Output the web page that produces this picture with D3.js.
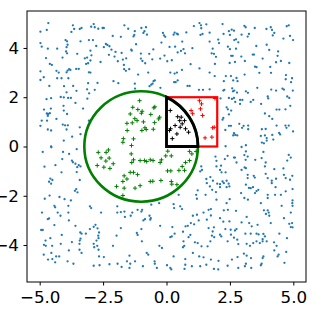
<!DOCTYPE html>
<html>
<head>
<meta charset="utf-8">
<script src="https://cdn.jsdelivr.net/npm/d3@7"></script>
<style>
    html, body { margin: 0; padding: 0; background: #fff; }
    svg { display: block; font-family: "DejaVu Sans", sans-serif; }
</style>
</head>
<body>
<div id="chart"></div>
<script>
const xTicks = [-5, -2.5, 0, 2.5, 5];
const yTicks = [-4, -2, 0, 2, 4];
const circleCenter = [-1, 0];
const circleRadius = 2.24;
const squareCorner = [0, 0];
const squareSide = 2;

// sample points ([x, y])
const points = [
    [-4.66,5.01],[-4.97,4.66],[-4.72,4.73],[-3.69,4.92],[-3.64,4.77],[-3.42,4.77],[-3.35,4.81],[-2.97,4.86],[-2.87,4.97],[-2.83,4.84],
    [-2.69,4.78],[-2.52,4.81],[-2.47,4.81],[-2.12,4.49],[-3.75,4.65],[-4.97,4.20],[-4.92,4.05],[-3.98,4.32],[-3.92,4.27],[-3.90,4.13],
    [-3.94,4.03],[-4.68,3.97],[-4.31,3.97],[-3.39,4.27],[-3.06,4.32],[-2.90,4.32],[-2.77,4.08],[-2.39,4.16],[-2.33,4.12],[-2.25,4.07],
    [-2.47,4.03],[-2.17,3.93],[-2.01,3.84],[-3.96,3.86],[-3.92,3.78],[-3.52,3.76],[-4.10,3.61],[-3.13,3.61],[-3.00,3.89],[-2.96,3.70],
    [-3.22,3.58],[-2.27,3.72],[-2.05,3.65],[-1.92,3.46],[-2.60,3.43],[-4.75,3.59],[-4.60,3.35],[-4.52,3.31],[-3.00,3.49],[-3.09,3.38],
    [-3.17,3.35],[-4.97,3.05],[-4.34,3.07],[-4.25,3.00],[-3.90,3.08],[-3.84,3.14],[-3.79,3.11],[-3.94,3.01],[-3.56,3.15],[-3.46,3.15],
    [-3.06,3.01],[-3.00,3.00],[-4.84,2.81],[-4.31,2.77],[-4.14,2.77],[-3.87,2.77],[-4.97,2.70],[-4.62,2.46],[-4.04,2.45],[-3.68,2.46],
    [-3.09,2.57],[-2.72,2.58],[-2.09,2.65],[-1.90,2.57],[-3.94,2.20],[-3.55,2.26],[-3.13,2.32],[-2.83,2.30],[-3.05,2.16],[-4.17,2.01],
    [-4.05,1.99],[-3.88,1.97],[-3.77,1.97],[-4.55,1.96],[-4.73,1.92],[-3.59,1.77],[-3.12,1.94],[-4.83,1.50],[-4.56,1.54],[-4.72,1.34],
    [-4.67,1.32],[-4.60,1.35],[-4.68,1.24],[-4.06,1.65],[-4.05,1.46],[-3.29,1.54],[-4.92,1.05],[-4.34,1.12],[-3.92,1.32],[-4.09,0.89],
    [-4.00,0.86],[-3.89,0.86],[-4.97,0.84],[-4.68,0.69],[-4.55,0.65],[-4.71,1.05],[-3.42,0.78],[-3.94,0.69],[-4.05,0.24],[-3.72,0.40],
    [-3.39,0.50],[-4.55,0.00],[-3.06,1.05],
    [-1.66,4.92],[-1.51,4.78],[-1.25,4.68],[-1.27,4.53],[-1.30,4.47],[-0.99,4.81],[-0.81,4.84],[-0.87,4.68],[-0.77,4.54],[-0.91,4.61],
    [-0.14,4.61],[-0.10,4.51],[-0.05,4.45],[0.32,4.62],[0.28,4.54],[0.41,4.58],[0.45,4.55],[0.78,4.63],[1.08,4.89],[1.30,5.01],
    [1.36,4.92],[1.37,4.80],[1.57,4.96],[1.42,4.57],[1.34,4.53],[1.70,4.62],[-1.80,4.45],[-1.20,4.15],[-1.39,3.93],[-1.37,3.89],
    [-0.52,3.94],[-0.68,3.76],[-0.20,4.22],[0.12,4.04],[0.34,4.05],[0.44,3.82],[0.57,3.88],[0.67,3.95],[0.73,3.78],[0.62,4.26],
    [1.02,3.99],[1.70,4.26],[1.82,3.97],[1.78,3.78],[-1.77,3.80],[-1.72,3.53],[-1.59,3.58],[-1.01,3.77],[-1.01,3.57],[-0.95,3.47],
    [-0.84,3.38],[-0.56,3.54],[-0.25,3.57],[-0.08,3.69],[0.03,3.46],[0.21,3.50],[-1.68,3.31],[-1.67,3.14],[-1.60,3.07],[-1.47,3.14],
    [-1.12,2.92],[-0.72,3.00],[0.15,3.00],[0.32,2.96],[0.41,3.00],[0.61,3.11],[0.95,3.34],[1.30,3.17],[1.70,3.00],[-1.25,2.55],
    [-1.24,2.35],[-0.55,2.55],[-0.51,2.65],[-0.46,2.68],[-0.67,2.45],[-0.60,2.51],[-0.24,2.38],[0.30,2.61],[0.36,2.61],[0.44,2.68],
    [0.83,2.46],[0.91,2.46],[1.28,2.30],[1.44,2.30],[1.70,2.32],
    [-1.06,1.86],[-1.33,1.59],[-1.13,1.50],[-0.96,1.43],[-0.99,1.35],[-1.43,1.32],[-1.25,1.13],[-1.16,1.05],[-1.56,0.94],[-1.35,0.96],
    [-0.91,1.00],[-0.85,0.76],[-0.97,0.65],[-0.80,0.69],[-0.62,1.30],[-0.50,1.57],[-0.46,1.61],[-0.31,1.12],[-0.27,1.19],[-0.47,0.97],
    [-1.55,0.65],[-1.70,0.32],[-1.30,0.31],[-1.38,0.04],[-1.72,0.17],[-0.52,0.70],
    [0.15,1.46],[0.44,1.21],[0.58,1.19],[0.52,1.05],[0.71,1.05],[0.62,0.92],[0.34,0.85],[0.54,0.78],[0.75,0.72],[0.16,0.72],
    [0.12,0.65],[0.41,0.51],[0.87,0.58],[0.23,0.32],
    [0.97,1.46],[1.03,1.33],[1.30,1.86],[1.34,1.53],[1.42,1.26],[1.38,1.73],[1.82,0.76],[1.88,0.78],[1.79,0.38],[1.52,0.35],
    [2.21,4.97],[2.04,4.34],[2.07,4.20],[2.25,4.57],[2.46,4.68],[2.57,4.74],[2.66,4.70],[2.50,4.53],[2.74,4.35],[2.67,4.32],
    [2.83,4.23],[2.96,4.54],[3.07,4.90],[3.12,4.84],[3.20,4.46],[3.25,4.57],[3.48,4.81],[3.94,4.77],[4.11,4.84],[4.16,4.73],
    [4.19,4.51],[4.25,4.61],[4.74,4.88],[4.82,4.92],[4.87,4.49],[4.99,4.32],[4.61,4.38],[1.87,3.76],[1.95,3.64],[2.42,4.05],
    [2.50,3.95],[2.55,3.68],[2.61,3.68],[2.49,3.39],[2.70,3.43],[2.74,3.97],[2.95,3.65],[3.09,3.47],[3.40,3.73],[3.45,3.73],
    [3.54,4.08],[3.79,3.57],[3.95,4.13],[4.05,3.92],[4.40,3.86],[4.38,3.68],[4.32,3.42],[4.51,3.47],[4.84,3.39],[1.91,3.35],
    [1.90,2.86],[2.34,2.86],[2.54,2.86],[2.63,2.68],[2.76,2.78],[2.80,2.65],[3.08,2.92],[3.49,3.24],[3.55,3.22],[3.66,2.99],
    [4.09,3.23],[4.12,2.99],[4.71,2.90],[4.70,2.73],[4.95,2.77],[4.91,2.61],[4.98,2.27],[2.26,2.65],[2.24,2.27],[2.28,2.30],
    [2.59,2.36],[2.62,2.24],[2.67,2.27],[2.78,2.19],[3.13,2.24],[3.21,2.18],[3.58,2.38],[4.13,2.31],[4.32,2.27],[4.57,2.35],
    [4.63,2.31],[1.91,1.95],[2.13,1.95],[2.46,1.97],[2.58,1.93],[2.66,1.97],[2.71,1.81],[2.90,1.89],[2.99,1.89],[3.42,1.89],
    [4.01,1.95],[3.99,2.03],[4.76,2.03],[4.84,1.97],[2.37,1.59],[2.42,1.51],[2.24,1.16],[2.21,1.09],[2.46,1.30],[2.55,1.46],
    [2.90,1.73],[3.32,1.81],[3.73,1.73],[3.88,1.34],[4.05,1.23],[4.17,1.12],[4.34,1.50],[4.45,1.50],[4.69,1.51],[4.88,1.65],
    [2.32,0.67],[2.46,0.84],[2.54,0.84],[2.66,0.54],[2.71,0.47],[2.79,0.45],[2.63,0.45],[2.87,0.92],[2.98,0.76],[3.04,0.84],
    [3.22,0.85],[3.22,0.70],[3.76,0.70],[3.72,0.43],[3.91,0.71],[3.88,0.45],[3.95,0.34],[3.95,0.24],[3.76,0.16],[3.84,0.13],
    [4.17,0.47],[4.21,0.28],[4.34,0.85],[4.44,0.55],[4.48,0.49],[4.69,0.85],[4.73,0.76],[4.82,0.85],[4.99,0.61],[3.13,0.05],
    [2.33,0.01],
    [-4.88,-0.22],[-4.54,-0.03],[-4.08,-0.22],[-3.84,-0.30],[-3.54,-0.11],[-4.81,-0.82],[-4.38,-0.76],[-4.11,-0.51],[-3.73,-0.57],[-3.69,-0.64],
    [-3.59,-0.70],[-3.52,-0.84],[-3.46,-0.76],[-3.39,-0.81],[-4.14,-1.05],[-3.54,-1.04],[-3.42,-1.36],[-4.58,-1.30],[-4.63,-1.43],[-4.50,-1.36],
    [-4.55,-1.51],[-3.56,-1.73],[-3.61,-1.80],[-3.51,-1.86],[-4.80,-2.12],[-4.61,-1.99],[-4.22,-2.05],[-4.02,-2.14],[-3.77,-2.19],[-3.87,-2.41],
    [-4.42,-2.41],[-4.39,-2.47],[-4.91,-2.68],[-4.29,-2.68],[-4.18,-2.81],[-4.68,-2.95],[-4.63,-2.92],[-4.42,-3.19],[-3.87,-2.68],[-3.85,-3.00],
    [-3.02,-2.43],[-2.97,-2.50],[-2.58,-2.68],[-4.94,-3.39],[-4.88,-3.39],[-4.58,-3.72],[-4.13,-3.59],[-3.59,-3.22],[-3.40,-3.49],[-3.35,-3.54],
    [-3.18,-3.54],[-3.02,-3.35],[-2.80,-3.18],[-2.72,-3.32],[-2.66,-3.49],[-2.68,-3.72],[-2.87,-3.26],[-4.83,-3.99],[-4.76,-4.03],[-4.77,-3.82],
    [-4.51,-4.03],[-4.17,-3.95],[-3.73,-3.88],[-3.85,-4.22],[-3.42,-3.82],[-3.39,-3.74],[-3.43,-3.95],[-3.43,-4.19],[-3.35,-4.32],[-2.87,-3.95],
    [-2.85,-4.09],[-2.73,-4.03],[-2.68,-4.19],[-2.76,-3.82],[-2.69,-3.62],[-4.84,-4.39],[-4.54,-4.32],[-4.50,-4.57],[-4.67,-4.59],[-4.35,-4.46],
    [-4.23,-4.46],[-4.39,-4.70],[-3.90,-4.66],[-3.67,-4.76],[-2.87,-4.84],[-2.64,-4.82],[-2.66,-4.46],[-2.47,-4.49],[-2.25,-4.78],[-1.93,-4.76],
    [-2.11,-4.03],[-1.97,-3.62],[-1.94,-2.43],[-1.94,-2.68],[-1.80,-2.66],[-1.80,-3.31],
    [-2.69,-0.24],[-2.58,-0.46],[-2.38,-0.24],[-2.29,-0.14],[-2.39,-0.59],[-2.26,-0.47],[-2.10,-0.70],[-2.73,-0.77],[-2.47,-0.84],[-2.23,-0.89],
    [-1.97,-1.62],
    [-1.39,-0.30],[-1.30,-0.54],[-1.37,-0.65],[-1.04,-0.57],[-0.87,-0.57],[-0.64,-0.54],[-0.53,-0.57],[-0.78,-0.61],[-0.25,-0.65],[-0.20,-0.54],
    [-0.03,-0.38],[0.05,-0.19],[0.19,-0.38],[0.04,-0.99],[0.17,-0.99],[0.49,-0.97],[0.71,-0.97],[0.62,-0.81],[0.75,-0.65],[0.91,-0.57],
    [0.91,-0.20],[1.00,-0.30],[1.17,-0.20],[-1.43,-1.05],[-1.67,-1.19],[-1.72,-1.42],[-1.56,-1.32],[-1.30,-1.05],[-1.14,-1.14],[-0.64,-1.42],
    [-0.54,-1.41],[-0.22,-1.38],[0.19,-1.42],[0.21,-1.53],[0.41,-1.55],[-1.04,-1.59],[-1.24,-1.69],[-1.67,-1.69],[-1.72,-1.99],
    [1.37,-0.81],[1.40,-0.95],[1.33,-1.01],[1.57,-1.32],[1.73,-1.24],[1.59,-1.49],[1.71,-1.62],[1.80,-1.76],[1.83,-1.39],[1.23,-1.78],
    [1.17,-1.96],[1.20,-2.12],[1.54,-1.96],[0.48,-1.96],[0.28,-2.34],[0.30,-2.50],[0.54,-2.43],[0.61,-2.54],[-0.29,-2.30],[-0.60,-2.36],
    [-1.14,-2.57],[-0.99,-2.64],[-0.96,-2.57],[-1.66,-2.64],[-1.64,-2.86],[-1.41,-2.81],[-1.35,-2.68],[-0.67,-2.81],[-0.62,-2.91],[-0.64,-2.97],
    [-0.91,-3.00],[-0.85,-2.95],[-1.17,-3.51],[-1.14,-3.59],[-0.99,-3.35],[-0.97,-3.85],[-0.25,-3.22],[0.23,-3.27],[0.21,-3.65],[0.15,-3.68],
    [0.32,-3.54],[0.65,-3.46],[0.75,-3.24],[0.84,-3.22],[0.96,-3.11],[1.04,-2.81],[1.20,-2.77],[1.46,-2.68],[1.66,-2.57],[1.75,-2.54],
    [1.75,-2.80],[1.59,-2.97],[1.27,-3.00],[1.09,-3.16],[0.94,-3.59],[0.87,-3.68],[0.67,-3.85],[0.70,-4.03],[0.65,-4.09],[1.12,-3.89],
    [1.23,-3.92],[1.38,-4.05],[1.62,-4.05],[1.73,-3.85],[1.82,-3.45],[1.79,-3.62],[1.66,-3.31],[-0.28,-4.03],[-0.18,-4.12],[-0.78,-4.32],
    [-0.72,-4.39],[-1.46,-4.43],[-1.56,-4.66],[-1.43,-4.76],[-1.46,-4.93],[-1.24,-4.66],[-0.93,-4.86],[-1.77,-4.89],[-0.47,-4.66],[-0.46,-4.76],
    [0.28,-4.46],[0.74,-4.57],[0.74,-4.80],[0.71,-4.97],[1.00,-4.86],[1.33,-4.86],[1.57,-4.80],[1.46,-4.50],[1.75,-4.59],[0.02,-4.82],
    [0.15,-4.93],[0.19,-4.99],[-0.38,-4.93],[1.04,-4.32],[1.29,-4.46],
    [1.93,-0.41],[1.97,-0.58],[1.97,-0.81],[2.15,-0.78],[2.30,-0.51],[2.41,-0.38],[2.66,-0.45],[2.70,-0.45],[2.76,-0.65],[2.96,-0.02],
    [3.07,-0.35],[3.12,-0.54],[3.20,-0.41],[3.13,-0.20],[3.50,-0.54],[3.75,-0.47],[3.82,-0.22],[3.91,-0.65],[3.88,-0.81],[4.25,-0.92],
    [4.61,-0.89],[4.76,-0.57],[4.82,-0.34],[4.90,-0.45],[4.96,-1.19],[4.63,-1.15],[4.70,-1.28],[4.87,-1.35],[4.32,-1.31],[3.99,-1.28],
    [3.91,-1.11],[4.15,-1.39],[4.15,-1.49],[3.44,-1.19],[3.48,-1.26],[3.20,-1.15],[3.20,-1.28],[3.13,-0.88],[2.96,-0.95],[3.08,-0.85],
    [2.11,-0.95],[2.17,-1.05],[2.33,-1.05],[2.00,-1.51],[2.11,-1.53],[2.21,-1.42],[2.26,-1.49],[2.37,-1.65],[2.45,-1.51],[2.48,-1.62],
    [2.37,-1.39],[1.95,-1.85],[1.97,-2.16],[2.11,-1.65],[3.13,-1.55],[3.25,-1.68],[3.32,-1.69],[3.41,-1.65],[3.55,-1.81],[3.62,-1.76],
    [3.49,-1.89],[2.94,-1.89],[3.07,-2.09],[3.21,-2.16],[4.30,-1.65],[4.70,-1.82],[3.99,-1.96],[3.99,-2.09],[4.28,-1.96],[4.51,-1.96],
    [4.97,-1.73],[4.97,-2.19],[4.96,-2.30],[4.97,-2.41],[2.26,-2.59],[2.42,-2.57],[2.37,-2.30],[2.49,-2.14],[2.74,-2.61],[3.16,-2.86],
    [3.72,-2.30],[3.84,-2.59],[3.92,-2.74],[3.99,-2.59],[4.03,-2.68],[4.05,-2.81],[4.11,-3.11],[4.54,-2.41],[4.90,-2.68],[4.63,-2.91],
    [4.84,-3.14],[4.90,-3.27],[4.95,-3.11],[4.97,-3.28],[4.75,-3.72],[4.45,-3.54],[3.82,-3.55],[3.88,-3.65],[3.79,-3.76],[3.55,-3.54],
    [3.63,-3.57],[3.32,-3.54],[3.11,-3.54],[3.36,-3.24],[3.26,-3.11],[3.59,-3.18],[2.11,-2.91],[2.24,-3.05],[2.48,-3.04],[2.32,-3.35],
    [2.53,-3.38],[2.70,-3.41],[2.76,-3.35],[2.96,-3.08],[1.87,-3.28],[2.11,-3.58],[2.16,-3.65],[1.88,-3.68],[2.41,-3.85],[2.54,-3.58],
    [2.66,-3.70],[2.83,-3.96],[2.79,-3.78],[3.16,-3.95],[3.29,-4.03],[3.42,-3.92],[3.55,-3.85],[3.68,-3.92],[3.79,-3.85],[3.95,-3.85],
    [4.24,-3.89],[4.34,-4.03],[4.25,-4.22],[4.38,-4.46],[4.42,-4.39],[4.65,-4.72],[4.72,-4.28],[3.82,-4.46],[3.79,-4.53],[3.75,-4.76],
    [3.72,-4.82],[3.33,-4.53],[3.05,-4.35],[3.16,-4.43],[3.13,-4.76],[3.09,-4.86],[2.80,-4.49],[2.58,-4.59],[2.05,-4.64],[2.41,-4.84],
    [2.83,-4.93],[3.34,-4.93],[2.04,-4.99],[1.87,-4.97]
];

const width = 327;
const height = 318;
const margin = { top: 11, right: 21, bottom: 36, left: 27 };

const colors = { outside: '#1f77b4', circle: 'green', square: 'red', both: 'black' };

const x = d3.scaleLinear().domain([-5.5, 5.5]).range([margin.left, width - margin.right]);
const y = d3.scaleLinear().domain([-5.5, 5.5]).range([height - margin.bottom, margin.top]);

function region([px, py]) {
    const dx = px - circleCenter[0];
    const dy = py - circleCenter[1];
    const inCircle = dx * dx + dy * dy <= circleRadius * circleRadius;
    const inSquare = px >= squareCorner[0] && px <= squareCorner[0] + squareSide
        && py >= squareCorner[1] && py <= squareCorner[1] + squareSide;
    if (inCircle && inSquare) return 'both';
    if (inCircle) return 'circle';
    if (inSquare) return 'square';
    return 'outside';
}

const svg = d3.select('#chart')
    .append('svg')
    .attr('width', width)
    .attr('height', height);

const plot = svg.append('g');

// plain samples as small dots
plot.selectAll('circle.pt')
    .data(points.filter((p) => region(p) === 'outside'))
    .join('circle')
    .attr('class', 'pt')
    .attr('cx', (d) => x(d[0]))
    .attr('cy', (d) => y(d[1]))
    .attr('r', 1.15)
    .attr('fill', colors.outside);

// circle outline
const rx = x(circleRadius) - x(0);
const ry = y(0) - y(circleRadius);
plot.append('ellipse')
    .attr('cx', x(circleCenter[0]))
    .attr('cy', y(circleCenter[1]))
    .attr('rx', rx)
    .attr('ry', ry)
    .attr('fill', 'none')
    .attr('stroke', colors.circle)
    .attr('stroke-width', 2.6);

// square outline
plot.append('rect')
    .attr('x', x(squareCorner[0]))
    .attr('y', y(squareCorner[1] + squareSide))
    .attr('width', x(squareCorner[0] + squareSide) - x(squareCorner[0]))
    .attr('height', y(squareCorner[1]) - y(squareCorner[1] + squareSide))
    .attr('fill', 'none')
    .attr('stroke', colors.square)
    .attr('stroke-width', 2.2);

// region samples as plus signs
const plusSize = 2.1;
plot.selectAll('path.plus')
    .data(points.filter((p) => region(p) !== 'outside'))
    .join('path')
    .attr('class', 'plus')
    .attr('d', (d) => {
        const cx = x(d[0]);
        const cy = y(d[1]);
        return `M${cx - plusSize},${cy}H${cx + plusSize}M${cx},${cy - plusSize}V${cy + plusSize}`;
    })
    .attr('stroke', (d) => colors[region(d)])
    .attr('stroke-width', 1)
    .attr('fill', 'none');

// overlap outline
const topY = Math.sqrt(circleRadius * circleRadius - circleCenter[0] * circleCenter[0]);
const rightX = circleCenter[0] + circleRadius;
plot.append('path')
    .attr('d', `M${x(0)},${y(0)}L${x(0)},${y(topY)}A${rx},${ry} 0 0 1 ${x(rightX)},${y(0)}Z`)
    .attr('fill', 'none')
    .attr('stroke', colors.both)
    .attr('stroke-width', 2.8)
    .attr('stroke-linejoin', 'miter');

// frame
svg.append('rect')
    .attr('x', margin.left)
    .attr('y', margin.top)
    .attr('width', width - margin.left - margin.right)
    .attr('height', height - margin.top - margin.bottom)
    .attr('fill', 'none')
    .attr('stroke', '#000')
    .attr('stroke-width', 1);

const fmt = d3.format('.1f');

const xAxis = svg.append('g')
    .attr('transform', `translate(0,${height - margin.bottom})`)
    .call(d3.axisBottom(x).tickValues(xTicks).tickFormat(fmt).tickSize(3.5).tickPadding(6));

const yAxis = svg.append('g')
    .attr('transform', `translate(${margin.left},0)`)
    .call(d3.axisLeft(y).tickValues(yTicks).tickFormat(d3.format('d')).tickSize(3.5).tickPadding(4.5));

[xAxis, yAxis].forEach((axis) => {
    axis.select('.domain').remove();
    axis.selectAll('.tick line').attr('stroke', '#000').attr('stroke-width', 1);
    axis.selectAll('.tick text')
        .attr('fill', '#000')
        .style('font-family', '"DejaVu Sans", sans-serif')
        .style('font-size', '16.7px');
});
</script>
</body>
</html>
